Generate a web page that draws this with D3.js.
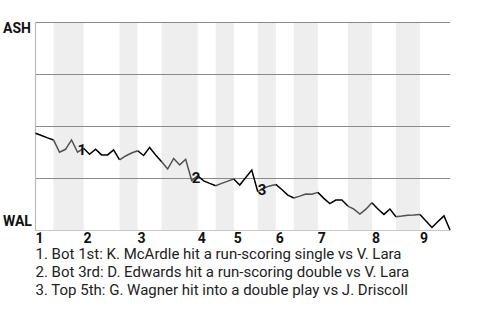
<!DOCTYPE html>
<html>
<head>
<meta charset="utf-8">
<script src="https://cdn.jsdelivr.net/npm/d3@7"></script>
<style>
  html, body { margin: 0; padding: 0; background: #fff; }
  svg { display: block; font-family: Roboto, "Noto Sans", sans-serif; }
</style>
</head>
<body>
<svg id="chart" width="480" height="320"></svg>
<script>
// Win probability for ASH (1 = ASH wins, 0 = WAL wins), one value per play
const winProb = [
  0.465, 0.454, 0.443, 0.433, 0.374, 0.388, 0.433, 0.374, 0.393, 0.364,
  0.388, 0.361, 0.361, 0.385, 0.337, 0.356, 0.370, 0.381, 0.358, 0.397,
  0.361, 0.328, 0.293, 0.344, 0.313, 0.340, 0.238, 0.260, 0.236, 0.224,
  0.213, 0.224, 0.235, 0.245, 0.216, 0.252, 0.288, 0.184, 0.202, 0.212,
  0.219, 0.195, 0.168, 0.154, 0.163, 0.173, 0.172, 0.181, 0.152, 0.127,
  0.144, 0.144, 0.115, 0.100, 0.077, 0.100, 0.131, 0.101, 0.075, 0.101,
  0.064, 0.067, 0.071, 0.072, 0.075, 0.043, 0.012, 0.041, 0.068, 0.000
];
// play index where each half-inning starts (top 1st, bot 1st, top 2nd, ...)
const halfInningStarts = [0, 3, 8, 14, 17, 21, 27, 30, 33, 37, 40, 43, 47, 52, 56, 60, 64];
const inningLabels = ["1", "2", "3", "4", "5", "6", "7", "8", "9"];
const teams = { top: "ASH", bottom: "WAL" };
const eventIndex = [7, 26, 37];
const eventNumbers = ["1", "2", "3"];
const eventTexts = [
  "1. Bot 1st: K. McArdle hit a run-scoring single vs V. Lara",
  "2. Bot 3rd: D. Edwards hit a run-scoring double vs V. Lara",
  "3. Top 5th: G. Wagner hit into a double play vs J. Driscoll"
];
const gridValues = [0.25, 0.5, 0.75, 1];

const svg = d3.select("#chart");
const lastIdx = winProb.length - 1;
const x = d3.scaleLinear().domain([0, lastIdx]).range([35.5, 450]);
const y = d3.scaleLinear().domain([0, 1]).range([230, 22]);

// half-inning ranges
const halves = halfInningStarts.map((s, k) => ({
  start: s,
  end: k + 1 < halfInningStarts.length ? halfInningStarts[k + 1] : lastIdx,
  bottom: k % 2 === 1
}));

// shaded bands for bottom halves
svg.append("g").selectAll("rect")
  .data(halves.filter(h => h.bottom))
  .join("rect")
  .attr("x", d => x(d.start))
  .attr("width", d => x(d.end) - x(d.start))
  .attr("y", y(1))
  .attr("height", y(0) - y(1))
  .attr("fill", "#eeeeee");

// gridlines
svg.append("g").selectAll("line")
  .data(gridValues)
  .join("line")
  .attr("x1", x(0)).attr("x2", x(lastIdx))
  .attr("y1", d => Math.round(y(d)) + 0.5).attr("y2", d => Math.round(y(d)) + 0.5)
  .attr("stroke", "#8a8a8a").attr("stroke-width", 1);

// left and bottom frame
svg.append("line")
  .attr("x1", x(0)).attr("x2", x(0))
  .attr("y1", y(1)).attr("y2", y(0) + 1)
  .attr("stroke", "#bbbbbb").attr("stroke-width", 1.2);
svg.append("line")
  .attr("x1", x(0)).attr("x2", x(lastIdx))
  .attr("y1", Math.round(y(0)) + 0.5).attr("y2", Math.round(y(0)) + 0.5)
  .attr("stroke", "#c8c8c8").attr("stroke-width", 1);

// win probability line, one path per half-inning
const line = d3.line().x(i => x(i)).y(i => y(winProb[i]));
svg.append("g").selectAll("path")
  .data(halves)
  .join("path")
  .attr("d", h => line(d3.range(h.start, h.end + 1)))
  .attr("fill", "none")
  .attr("stroke", h => h.bottom ? "#505050" : "#000000")
  .attr("stroke-width", 1.5)
  .attr("stroke-linejoin", "miter");

// event markers
svg.append("g").selectAll("text")
  .data(eventIndex)
  .join("text")
  .attr("x", i => x(i))
  .attr("y", i => y(winProb[i]) + 3)
  .attr("font-size", 15)
  .attr("font-weight", "bold")
  .attr("fill", "#111")
  .text((i, k) => eventNumbers[k]);

// team labels
svg.append("text").attr("x", 3).attr("y", 33)
  .attr("font-size", 14).attr("font-weight", "bold").attr("fill", "#111")
  .text(teams.top);
svg.append("text").attr("x", 3).attr("y", 226)
  .attr("font-size", 14).attr("font-weight", "bold").attr("fill", "#111")
  .text(teams.bottom);

// inning labels
const topStarts = halves.filter(h => !h.bottom).map(h => h.start);
svg.append("g").selectAll("text")
  .data(topStarts)
  .join("text")
  .attr("x", d => x(d))
  .attr("y", 242.5)
  .attr("font-size", 14)
  .attr("font-weight", "bold")
  .attr("fill", "#111")
  .text((d, k) => inningLabels[k]);

// event descriptions
svg.append("g").selectAll("text")
  .data(eventTexts)
  .join("text")
  .attr("x", 35.5)
  .attr("y", (d, k) => 258.5 + k * 18)
  .attr("font-size", 15)
  .attr("fill", "#222")
  .text(d => d);
</script>
</body>
</html>
